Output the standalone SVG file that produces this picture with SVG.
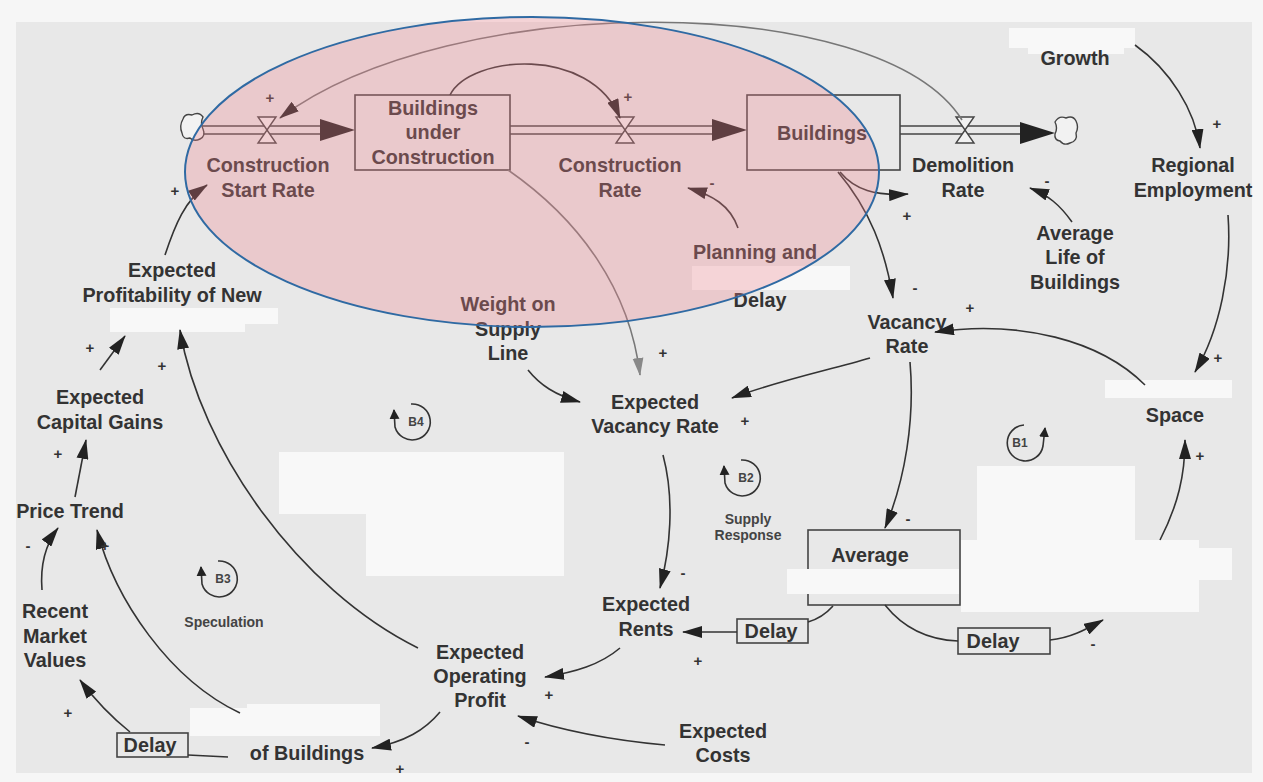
<svg xmlns="http://www.w3.org/2000/svg" width="1263" height="782" viewBox="0 0 1263 782">
<style>
.t{font-family:"Liberation Sans",Arial,sans-serif;font-weight:bold;font-size:19.8px;fill:#333;text-anchor:middle}
.s{font-family:"Liberation Sans",Arial,sans-serif;font-weight:bold;font-size:14px;fill:#444;text-anchor:middle}
.lb{font-family:"Liberation Sans",Arial,sans-serif;font-weight:bold;font-size:12px;fill:#444;text-anchor:middle;dominant-baseline:central}
.sg{font-family:"Liberation Sans",Arial,sans-serif;font-weight:bold;font-size:15px;fill:#333;text-anchor:middle;dominant-baseline:central}
.ln{fill:none;stroke:#333;stroke-width:1.6}
.lg{fill:none;stroke:#777;stroke-width:1.6}
.box{fill:none;stroke:#444;stroke-width:1.6}
.pipe{fill:none;stroke:#444;stroke-width:1.6}
.valve{fill:#f2f2f2;stroke:#444;stroke-width:1.4}
.wh{fill:#f8f8f8}
</style>
<defs>
<marker id="ah" viewBox="0 0 20 12" refX="19" refY="6" markerWidth="20" markerHeight="12" markerUnits="userSpaceOnUse" orient="auto"><path d="M0,0 L20,6 L0,12 z" fill="#222"/></marker>
<marker id="ahg" viewBox="0 0 20 12" refX="19" refY="6" markerWidth="18" markerHeight="12" markerUnits="userSpaceOnUse" orient="auto"><path d="M0,0 L20,6 L0,12 z" fill="#888"/></marker>
<marker id="as" viewBox="0 0 10 10" refX="9" refY="5" markerWidth="10" markerHeight="10" markerUnits="userSpaceOnUse" orient="auto"><path d="M0,0 L10,5 L0,10 z" fill="#222"/></marker>
</defs>
<rect x="0" y="0" width="1263" height="782" fill="#f6f6f6"/>
<rect x="16" y="22" width="1236" height="751" fill="#e8e8e8"/>

<g id="stocks-flows">
<path class="pipe" d="M202,126 H322 M202,134 H322 M510,126 H714 M510,134 H714 M900,126 H1022 M900,134 H1022"/>
<path d="M320,119 L355,130 L320,141 z" fill="#222"/>
<path d="M712,119 L747,130 L712,141 z" fill="#222"/>
<path d="M1020,122 L1055,133 L1020,144 z" fill="#222"/>
<path class="valve" d="M258,117 H276 L267,130 z M258,143 H276 L267,130 z"/>
<path class="valve" d="M616,117 H634 L625,130 z M616,143 H634 L625,130 z"/>
<path class="valve" d="M956,117 H974 L965,130 z M956,143 H974 L965,130 z"/>
<path class="valve" d="M183,119 q2,-6 9,-4 q7,-4 11,2 q-3,6 0,12 q3,7 -3,10 q-6,3 -10,-1 q-7,2 -8,-5 q-3,-7 1,-14 z"/>
<path class="valve" d="M1055,122 q4,-7 11,-4 q7,-3 10,3 q3,6 0,12 q2,8 -6,10 q-6,3 -10,-2 q-6,-1 -5,-7 q3,-6 0,-12 z"/>
</g>

<g id="node-buc"><rect class="box" x="355" y="95" width="155" height="75"/>
<text class="t" x="433" y="115">Buildings</text><text class="t" x="433" y="139">under</text><text class="t" x="433" y="164">Construction</text></g>
<g id="node-csr"><text class="t" x="268" y="172">Construction</text><text class="t" x="268" y="197">Start Rate</text></g>
<g id="node-cr"><text class="t" x="620" y="172">Construction</text><text class="t" x="620" y="197">Rate</text></g>
<g id="node-buildings"><rect class="box" x="747" y="95" width="153" height="75"/><text class="t" x="822" y="140">Buildings</text></g>
<g id="node-dr"><text class="t" x="963" y="172">Demolition</text><text class="t" x="963" y="197">Rate</text></g>
<g id="node-growth"><rect class="wh" x="1009" y="28" width="126" height="20"/><rect class="wh" x="1028" y="46" width="96" height="8"/><text class="t" x="1075" y="65">Growth</text></g>
<g id="node-re"><text class="t" x="1193" y="172">Regional</text><text class="t" x="1193" y="197">Employment</text></g>
<g id="node-alb"><text class="t" x="1075" y="240">Average</text><text class="t" x="1075" y="264">Life of</text><text class="t" x="1075" y="289">Buildings</text></g>
<g id="node-planning"><text class="t" x="755" y="259">Planning and</text><rect class="wh" x="692" y="266" width="158" height="24"/><text class="t" x="760" y="307">Delay</text></g>
<g id="node-weight"><text class="t" x="508" y="311">Weight on</text><text class="t" x="508" y="336">Supply</text><text class="t" x="508" y="360">Line</text></g>
<g id="node-vr"><text class="t" x="907" y="329">Vacancy</text><text class="t" x="907" y="353">Rate</text></g>
<g id="node-space"><rect class="wh" x="1105" y="380" width="127" height="18"/><text class="t" x="1175" y="422">Space</text></g>
<g id="node-evr"><text class="t" x="655" y="409">Expected</text><text class="t" x="655" y="433">Vacancy Rate</text></g>
<g id="node-epn"><text class="t" x="172" y="277">Expected</text><text class="t" x="172" y="302">Profitability of New</text><rect class="wh" x="110" y="308" width="168" height="16"/><rect class="wh" x="110" y="322" width="135" height="10"/></g>
<g id="node-ecg"><text class="t" x="100" y="404">Expected</text><text class="t" x="100" y="429">Capital Gains</text></g>
<g id="node-pt"><text class="t" x="70" y="518">Price Trend</text></g>
<g id="node-rmv"><text class="t" x="55" y="618">Recent</text><text class="t" x="55" y="643">Market</text><text class="t" x="55" y="667">Values</text></g>
<g id="node-average"><rect class="box" x="808" y="530" width="152" height="75"/><text class="t" x="870" y="562">Average</text><rect class="wh" x="787" y="569" width="172" height="25"/></g>
<g id="node-er"><text class="t" x="646" y="611">Expected</text><text class="t" x="646" y="636">Rents</text></g>
<g id="node-eop"><text class="t" x="480" y="659">Expected</text><text class="t" x="480" y="683">Operating</text><text class="t" x="480" y="707">Profit</text></g>
<g id="node-ec"><text class="t" x="723" y="738">Expected</text><text class="t" x="723" y="762">Costs</text></g>
<g id="node-ob"><rect class="wh" x="190" y="708" width="190" height="28"/><rect class="wh" x="247" y="704" width="133" height="6"/><text class="t" x="307" y="760">of Buildings</text></g>
<g id="node-delay1"><rect class="box" x="737" y="619" width="71" height="24"/><text class="t" x="771" y="638">Delay</text></g>
<g id="node-delay2"><rect class="box" x="958" y="628" width="92" height="26"/><text class="t" x="993" y="648">Delay</text></g>
<g id="node-delay3"><rect class="box" x="117" y="733" width="71" height="24"/><text class="t" x="150" y="752">Delay</text></g>
<g id="patches"><rect class="wh" x="279" y="452" width="285" height="62"/><rect class="wh" x="366" y="512" width="198" height="64"/>
<rect class="wh" x="977" y="466" width="158" height="76"/><rect class="wh" x="961" y="540" width="238" height="72"/><rect class="wh" x="1199" y="548" width="33" height="32"/></g>

<g id="connectors">
<path class="lg" d="M962,120 C880,-10 450,-10 280,118" marker-end="url(#ah)"/>
<path class="ln" d="M450,95 C470,55 590,45 620,118" marker-end="url(#ah)"/>
<path class="ln" d="M738,228 C730,205 712,195 688,188" marker-end="url(#ah)"/>
<path class="ln" d="M840,172 C855,190 875,196 908,194" marker-end="url(#ah)"/>
<path class="ln" d="M838,172 C870,210 885,250 893,298" marker-end="url(#ah)"/>
<path class="ln" d="M1072,222 C1060,205 1048,195 1030,188" marker-end="url(#ah)"/>
<path class="ln" d="M1135,45 C1170,70 1195,110 1200,148" marker-end="url(#ah)"/>
<path class="ln" d="M1228,215 C1232,270 1220,330 1195,372" marker-end="url(#ah)"/>
<path class="ln" d="M1145,385 C1100,340 1020,320 935,332" marker-end="url(#ah)"/>
<path class="ln" d="M870,358 C830,370 780,380 732,398" marker-end="url(#ah)"/>
<path class="ln" d="M910,362 C915,420 905,480 885,528" marker-end="url(#ah)"/>
<path class="ln" d="M528,370 C540,385 555,395 580,402" marker-end="url(#ah)"/>
<path class="lg" d="M508,170 C580,220 630,290 640,375" marker-end="url(#ahg)"/>
<path class="ln" d="M663,455 C675,500 670,550 660,588" marker-end="url(#ah)"/>
<path class="ln" d="M885,605 C905,630 930,640 958,641"/>
<path class="ln" d="M1050,640 C1070,638 1085,630 1103,620" marker-end="url(#ah)"/>
<path class="ln" d="M833,606 C825,615 815,620 808,622"/>
<path class="ln" d="M737,632 L683,632" marker-end="url(#ah)"/>
<path class="ln" d="M1160,540 C1178,505 1185,475 1185,440" marker-end="url(#ah)"/>
<path class="ln" d="M620,648 C600,665 575,672 545,677" marker-end="url(#ah)"/>
<path class="ln" d="M665,745 C610,740 560,730 518,716" marker-end="url(#ah)"/>
<path class="ln" d="M440,712 C425,730 405,742 372,748" marker-end="url(#ah)"/>
<path class="ln" d="M228,757 L188,755"/>
<path class="ln" d="M130,732 C115,720 95,700 80,680" marker-end="url(#ah)"/>
<path class="ln" d="M42,590 C40,565 45,545 58,528" marker-end="url(#ah)"/>
<path class="ln" d="M240,713 C170,680 115,600 97,530" marker-end="url(#ah)"/>
<path class="ln" d="M75,497 L86,440" marker-end="url(#ah)"/>
<path class="ln" d="M100,370 L125,336" marker-end="url(#ah)"/>
<path class="ln" d="M418,648 C300,590 200,450 180,330" marker-end="url(#ah)"/>
<path class="ln" d="M165,255 C175,225 185,200 207,185" marker-end="url(#ah)"/>
</g>

<g id="loops">
<path class="ln" stroke-width="1.2" d="M1024,425 A18,18 0 1 0 1043,446 L1045,428" marker-end="url(#as)"/>
<text class="lb" x="1020" y="443">B1</text>
<path class="ln" stroke-width="1.2" d="M741,460 A18,18 0 1 1 725,483 L724,466" marker-end="url(#as)"/>
<text class="lb" x="746" y="478">B2</text>
<path class="ln" stroke-width="1.2" d="M218,561 A18,18 0 1 1 202,584 L201,567" marker-end="url(#as)"/>
<text class="lb" x="223" y="579">B3</text>
<path class="ln" stroke-width="1.2" d="M411,404 A18,18 0 1 1 395,427 L394,410" marker-end="url(#as)"/>
<text class="lb" x="416" y="422">B4</text>
<text class="s" x="748" y="524">Supply</text><text class="s" x="748" y="540">Response</text>
<text class="s" x="224" y="627">Speculation</text>
</g>

<g id="signs">
<text class="sg" x="270" y="97">+</text><text class="sg" x="628" y="96">+</text><text class="sg" x="907" y="215">+</text>
<text class="sg" x="1217" y="123">+</text><text class="sg" x="1218" y="357">+</text><text class="sg" x="970" y="307">+</text>
<text class="sg" x="663" y="352">+</text><text class="sg" x="745" y="420">+</text><text class="sg" x="1200" y="455">+</text>
<text class="sg" x="698" y="660">+</text><text class="sg" x="549" y="694">+</text><text class="sg" x="400" y="768">+</text>
<text class="sg" x="68" y="712">+</text><text class="sg" x="105" y="545">+</text><text class="sg" x="58" y="453">+</text>
<text class="sg" x="90" y="347">+</text><text class="sg" x="162" y="365">+</text><text class="sg" x="175" y="190">+</text>
<text class="sg" x="712" y="182">-</text><text class="sg" x="1047" y="180">-</text><text class="sg" x="915" y="287">-</text>
<text class="sg" x="908" y="518">-</text><text class="sg" x="683" y="572">-</text><text class="sg" x="1093" y="643">-</text>
<text class="sg" x="527" y="741">-</text><text class="sg" x="28" y="545">-</text>
</g>

<ellipse id="highlight" cx="532" cy="172" rx="347" ry="155" fill="rgb(240,130,140)" fill-opacity="0.3" stroke="#2f6aa3" stroke-width="2"/>
</svg>
